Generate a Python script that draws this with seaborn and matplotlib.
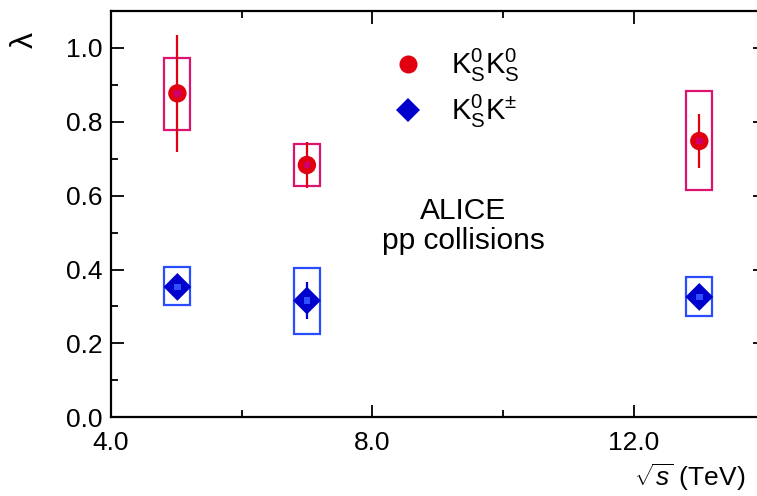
import numpy as np
import pandas as pd
import matplotlib
matplotlib.use("Agg")
import matplotlib.pyplot as plt
from matplotlib.patches import Rectangle
from matplotlib.lines import Line2D
from matplotlib.ticker import MultipleLocator, FormatStrFormatter
import seaborn as sns

# ---- data ----
energy = [5.02, 7.0, 13.0]
ksks_lambda = [0.877, 0.683, 0.748]
ksks_stat = [0.158, 0.061, 0.074]
ksks_sys_lo = [0.779, 0.626, 0.615]
ksks_sys_hi = [0.974, 0.740, 0.883]

kskch_lambda = [0.353, 0.316, 0.326]
kskch_stat = [0.02, 0.051, 0.02]
kskch_sys_lo = [0.304, 0.225, 0.274]
kskch_sys_hi = [0.406, 0.405, 0.379]

pair_labels = [r"$\mathrm{K^0_SK^0_S}$", r"$\mathrm{K^0_SK^{\pm}}$"]
x_ticks = [4.0, 8.0, 12.0]
y_ticks = [0.0, 0.2, 0.4, 0.6, 0.8, 1.0]

sns.set_style("ticks")
plt.rcParams["font.family"] = ["Liberation Sans", "DejaVu Sans"]
plt.rcParams["mathtext.fontset"] = "custom"
plt.rcParams["mathtext.rm"] = "Liberation Sans"
plt.rcParams["mathtext.it"] = "Liberation Sans:italic"
plt.rcParams["mathtext.bf"] = "Liberation Sans:bold"
plt.rcParams["text.color"] = "black"
plt.rcParams["axes.labelcolor"] = "black"
plt.rcParams["axes.edgecolor"] = "black"

W, H = 757, 496
fig = plt.figure(figsize=(W / 100, H / 100), dpi=100)
ax = fig.add_axes([110.7 / W, (H - 417.3) / H, (764.7 - 110.7) / W, (417.3 - 11) / H])

red = "#e0000f"
red_box = "#dc1470"
red_in = "#d0006a"
blue = "#0000cc"
blue_box = "#2a4cff"
blue_in = "#2f50ff"

df_ks = pd.DataFrame({"energy": energy, "lam": ksks_lambda})
df_kc = pd.DataFrame({"energy": energy, "lam": kskch_lambda})

half_w = 0.2
# systematic boxes
for e, lo, hi in zip(energy, ksks_sys_lo, ksks_sys_hi):
    ax.add_patch(Rectangle((e - half_w, lo), 2 * half_w, hi - lo, fill=False,
                           edgecolor=red_box, lw=1.6, zorder=2))
for e, lo, hi in zip(energy, kskch_sys_lo, kskch_sys_hi):
    ax.add_patch(Rectangle((e - half_w, lo), 2 * half_w, hi - lo, fill=False,
                           edgecolor=blue_box, lw=1.6, zorder=2))

# stat errors
ax.errorbar(energy, ksks_lambda, yerr=ksks_stat, fmt="none", ecolor=red,
            elinewidth=1.6, capsize=0, zorder=3)
ax.errorbar(energy, kskch_lambda, yerr=kskch_stat, fmt="none", ecolor=blue,
            elinewidth=1.6, capsize=0, zorder=3)

# points
sns.scatterplot(data=df_ks, x="energy", y="lam", marker="o", s=175, color=red,
                edgecolor="none", linewidth=0, ax=ax, zorder=4, legend=False)
sns.scatterplot(data=df_kc, x="energy", y="lam", marker="D", s=200, color=blue,
                edgecolor="none", linewidth=0, ax=ax, zorder=4, legend=False)
sns.scatterplot(data=df_ks, x="energy", y="lam", marker="s", s=22, color=red_in,
                edgecolor="none", linewidth=0, ax=ax, zorder=5, legend=False)
sns.scatterplot(data=df_kc, x="energy", y="lam", marker="s", s=22, color=blue_in,
                edgecolor="none", linewidth=0, ax=ax, zorder=5, legend=False)

ax.set_xlim(4.0, 14.0)
ax.set_ylim(0.0, 1.1)
ax.set_xticks(x_ticks)
ax.set_yticks(y_ticks)
ax.xaxis.set_minor_locator(MultipleLocator(2.0))
ax.yaxis.set_minor_locator(MultipleLocator(0.1))
ax.xaxis.set_major_formatter(FormatStrFormatter("%.1f"))
ax.yaxis.set_major_formatter(FormatStrFormatter("%.1f"))
ax.tick_params(which="both", direction="in", top=True, right=True,
               width=1.3, colors="black", labelcolor="black", labelsize=19)
ax.tick_params(which="major", length=9)
ax.tick_params(which="minor", length=5)
ax.tick_params(axis="x", pad=10)
ax.tick_params(axis="y", pad=6)
for sp in ax.spines.values():
    sp.set_linewidth(1.6)
    sp.set_visible(True)
    sp.set_color("black")

ax.set_xlabel("")
ax.set_ylabel("")
fig.text(745 / W, 1 - 477 / H, r"$\sqrt{s}$ (TeV)", ha="right", va="center",
         fontsize=19, color="black")
fig.text(25 / W, 1 - 40 / H, "λ", ha="center", va="center", fontsize=23,
         rotation=90, color="black", family=["Liberation Sans", "DejaVu Sans"])

ax.text(463, H - 226, "ALICE\npp collisions", transform=None, ha="center", va="center",
        fontsize=21.5, linespacing=1.1, color="black")

handles = [
    Line2D([], [], marker="o", ls="none", color=red, markersize=13, markeredgewidth=0),
    Line2D([], [], marker="D", ls="none", color=blue, markersize=12, markeredgewidth=0),
]
leg = ax.legend(handles, pair_labels, loc="upper left",
                bbox_to_anchor=(390 / W, 1 - 47 / H), bbox_transform=fig.transFigure,
                frameon=False, fontsize=21, handletextpad=0.9, labelspacing=0.3,
                handlelength=1.2, borderaxespad=0, borderpad=0, labelcolor="black")

fig.savefig("out.png", dpi=100)
